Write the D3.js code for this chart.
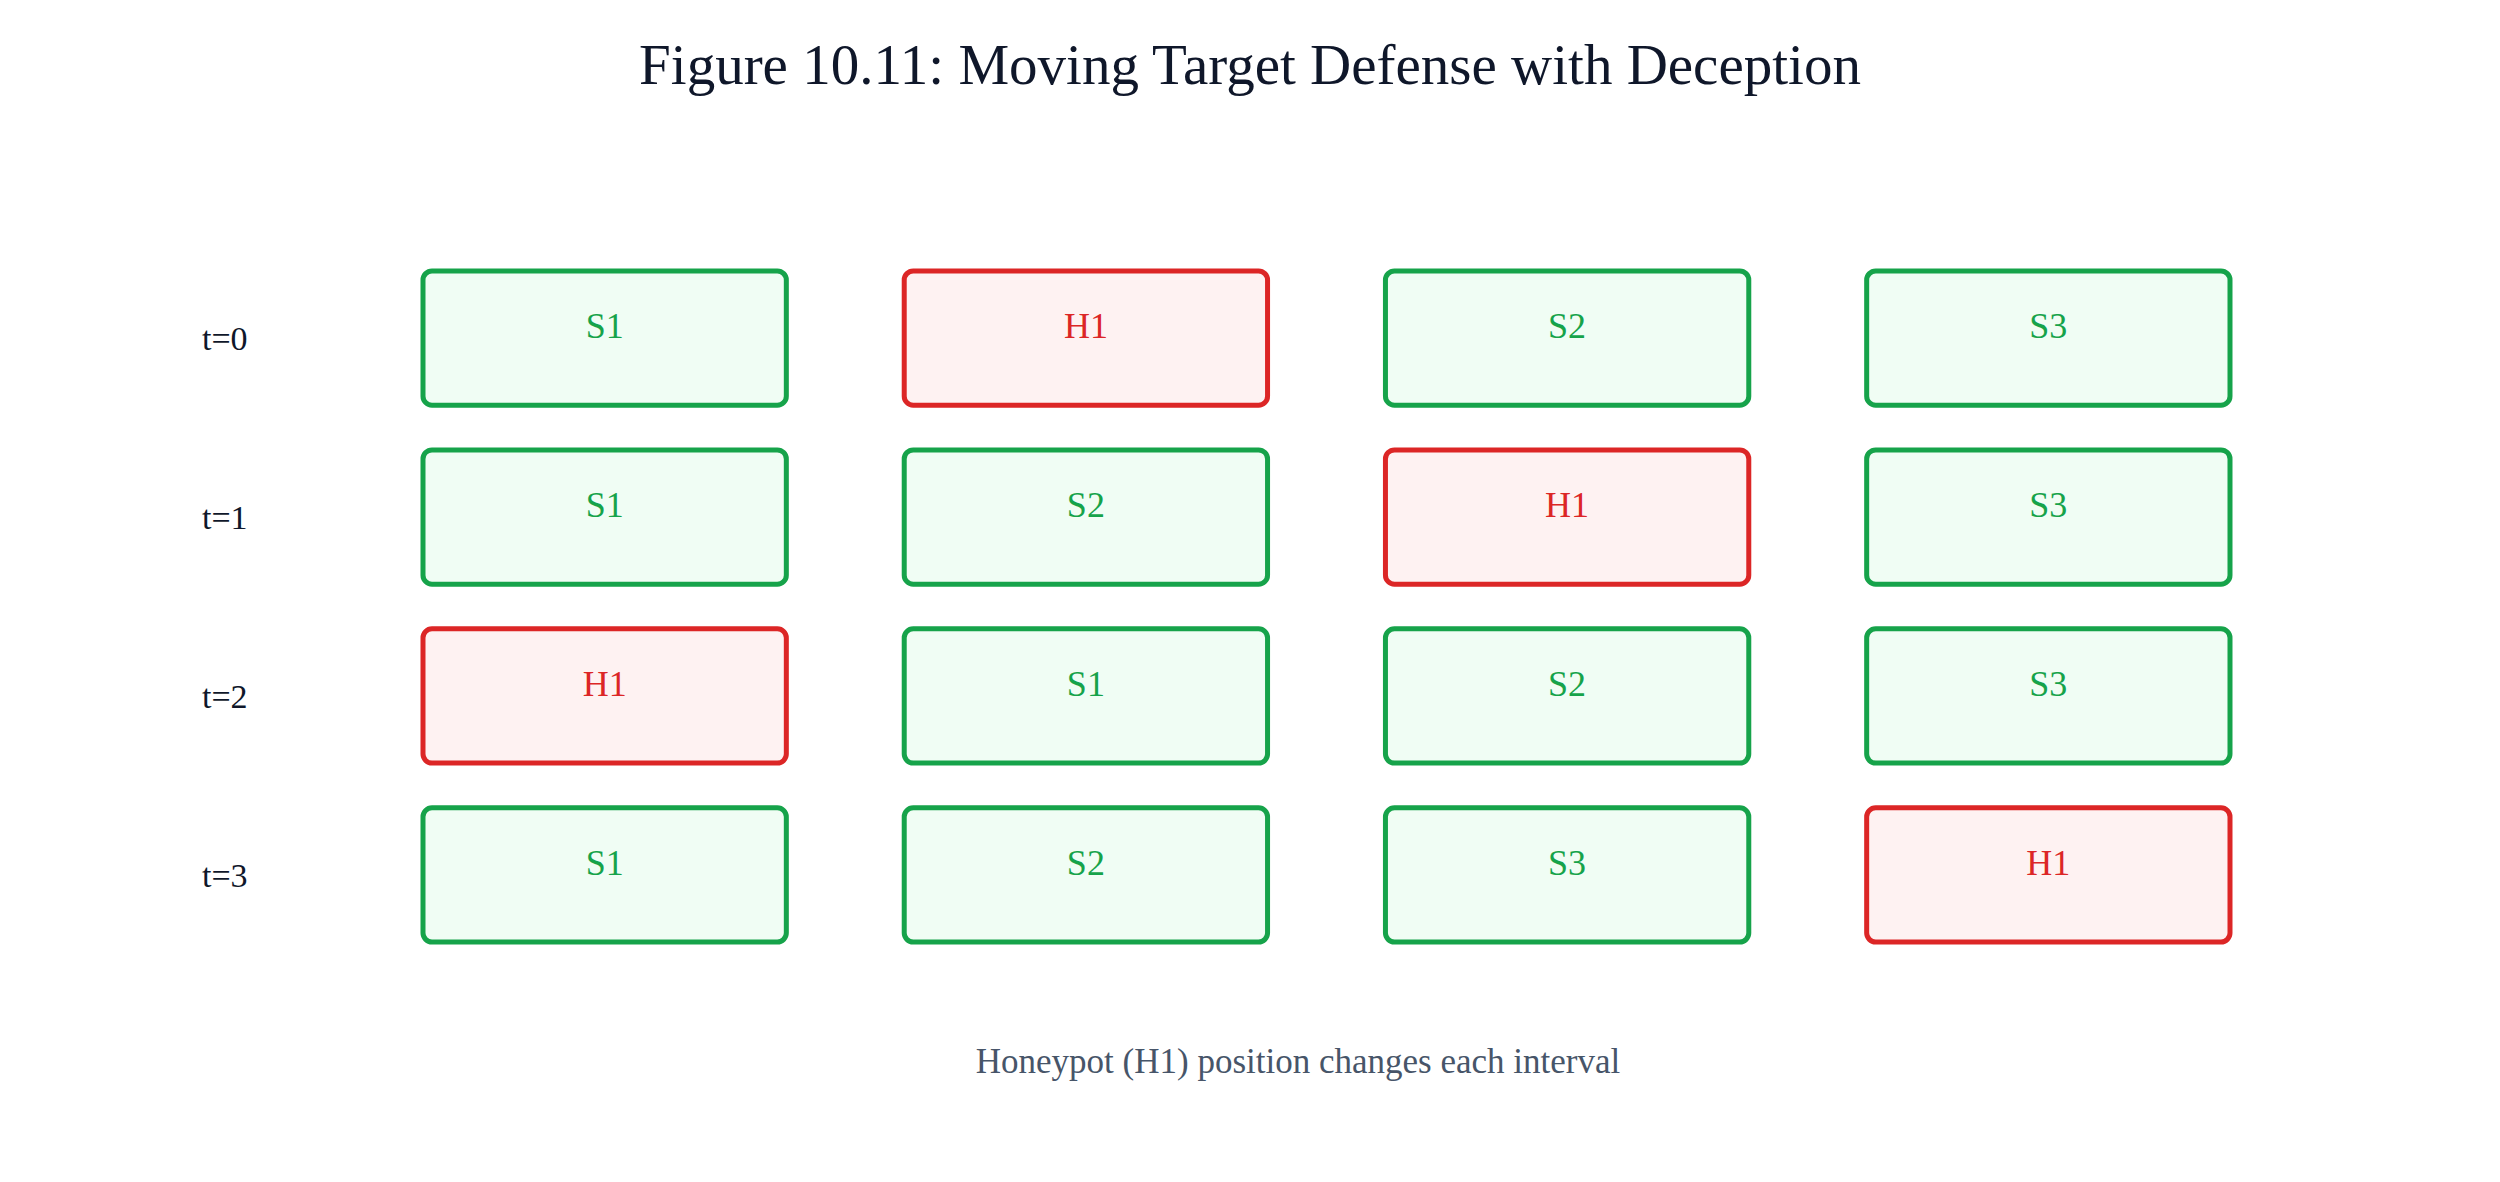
<!DOCTYPE html>
<html><head><meta charset="utf-8">
<script src="https://cdn.jsdelivr.net/npm/d3@7"></script>
<style>body{margin:0;background:#fff}svg{display:block}</style>
</head><body>
<script>
const timeLabels = ["t=0","t=1","t=2","t=3"];
const slots = [0,1,2,3];
const grid = [
  ["S1","H1","S2","S3"],
  ["S1","S2","H1","S3"],
  ["H1","S1","S2","S3"],
  ["S1","S2","S3","H1"]
];
const title = "Figure 10.11: Moving Target Defense with Deception";
const footer = "Honeypot (H1) position changes each interval";

const W = 2500, H = 1182;
const font = "'Liberation Serif', 'DejaVu Serif', serif";
const svg = d3.select("body").append("svg").attr("width", W).attr("height", H);

const x = d3.scaleBand().domain(slots).range([423, 2230]).paddingInner(0.245).paddingOuter(0);
const y = d3.scaleBand().domain(timeLabels).range([271, 942]).paddingInner(0.25).paddingOuter(0);

svg.append("text").attr("x", 1250).attr("y", 84).attr("text-anchor", "middle")
  .attr("font-family", font).attr("font-size", 57).attr("fill", "#0f172a").text(title);

svg.selectAll("text.tl").data(timeLabels).join("text").attr("class","tl")
  .attr("x", 202).attr("y", d => y(d) + y.bandwidth()/2 + 12)
  .attr("font-family", font).attr("font-size", 34).attr("fill", "#0f172a").text(d => d);

const cells = [];
grid.forEach((row, r) => row.forEach((v, c) => cells.push({r, c, v})));
const isH = d => d.v.startsWith("H");

const g = svg.selectAll("g.cell").data(cells).join("g").attr("class","cell")
  .attr("transform", d => `translate(${x(d.c)},${y(timeLabels[d.r])})`);
g.append("rect").attr("width", x.bandwidth()).attr("height", y.bandwidth())
  .attr("rx", 9).attr("ry", 9)
  .attr("fill", d => isH(d) ? "#fef2f2" : "#f0fdf4")
  .attr("stroke", d => isH(d) ? "#dc2626" : "#16a34a").attr("stroke-width", 5);
g.append("text").attr("x", x.bandwidth()/2).attr("y", 67).attr("text-anchor","middle")
  .attr("font-family", font).attr("font-size", 36)
  .attr("fill", d => isH(d) ? "#dc2626" : "#16a34a").text(d => d.v);

svg.append("text").attr("x", 1298).attr("y", 1073).attr("text-anchor","middle")
  .attr("font-family", font).attr("font-size", 35).attr("fill", "#475569").text(footer);
</script>
</body></html>
